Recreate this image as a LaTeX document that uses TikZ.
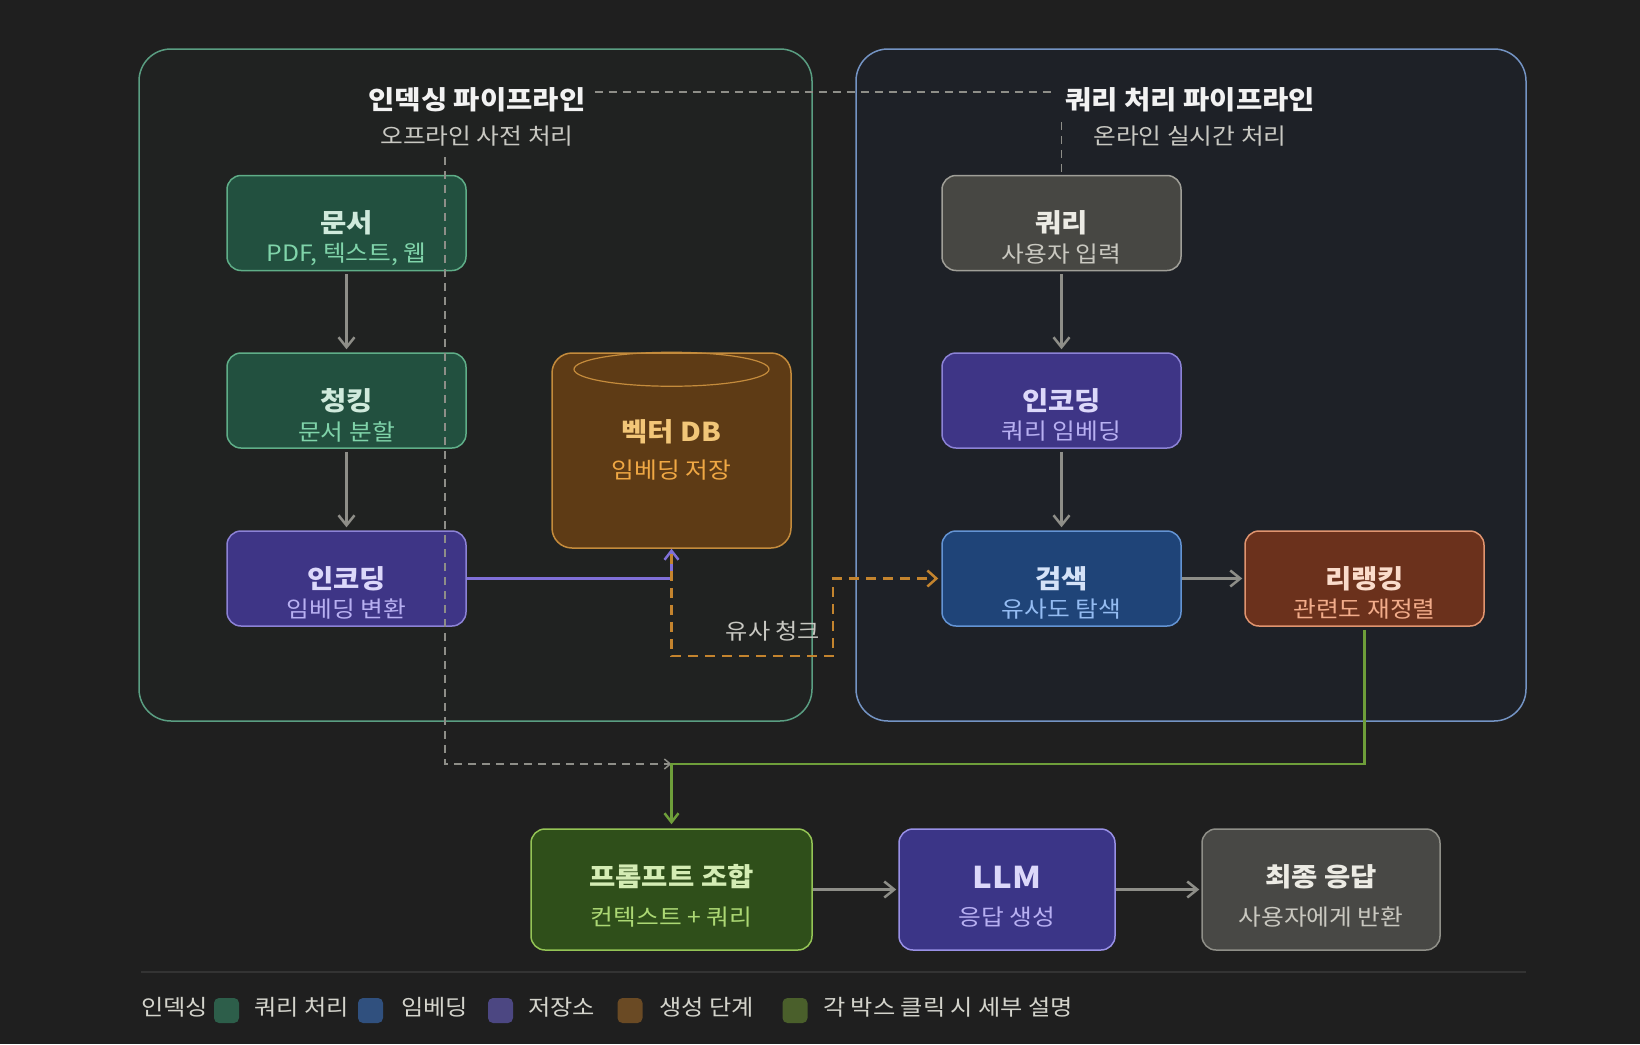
\documentclass[tikz,border=0pt]{standalone}
\usepackage{fontspec}
\setmainfont{Noto Sans CJK KR}[FakeStretch=1.1]
\usepackage{tikz}
\usetikzlibrary{calc,arrows.meta}
\definecolor{bgc}{HTML}{1F1F1F}
\definecolor{idxfill}{HTML}{202221}
\definecolor{idxline}{HTML}{5A9E82}
\definecolor{qfill}{HTML}{1E2127}
\definecolor{qline}{HTML}{7494C4}
\definecolor{gttlc}{HTML}{F2F2F2}
\definecolor{gsubc}{HTML}{C8C8C2}
\definecolor{docfill}{HTML}{22503F}
\definecolor{docline}{HTML}{5FAE88}
\definecolor{doctxt}{HTML}{D0EADC}
\definecolor{docsub}{HTML}{80D4AA}
\definecolor{encfill}{HTML}{3E3586}
\definecolor{encline}{HTML}{8C82D6}
\definecolor{enctxt}{HTML}{DCD8FA}
\definecolor{encsub}{HTML}{B8B0F2}
\definecolor{dbfill}{HTML}{5E3B15}
\definecolor{dbline}{HTML}{C48B3C}
\definecolor{dbtxt}{HTML}{F2C678}
\definecolor{dbsub}{HTML}{F0A844}
\definecolor{qryfill}{HTML}{474743}
\definecolor{qryline}{HTML}{A09F98}
\definecolor{qrytxt}{HTML}{ECEBE4}
\definecolor{qrysub}{HTML}{C9C8C0}
\definecolor{srchfill}{HTML}{1F4478}
\definecolor{srchline}{HTML}{6494D4}
\definecolor{srchtxt}{HTML}{D4E2F8}
\definecolor{srchsub}{HTML}{94BCF2}
\definecolor{rrfill}{HTML}{6B311C}
\definecolor{rrline}{HTML}{E0946F}
\definecolor{rrtxt}{HTML}{FADCCB}
\definecolor{rrsub}{HTML}{F2AC8A}
\definecolor{prfill}{HTML}{2F4F1A}
\definecolor{prline}{HTML}{94C455}
\definecolor{prtxt}{HTML}{D4ECB4}
\definecolor{prsub}{HTML}{ACD874}
\definecolor{llmfill}{HTML}{3B3587}
\definecolor{llmline}{HTML}{9890E6}
\definecolor{finfill}{HTML}{484845}
\definecolor{finline}{HTML}{8F8F88}
\definecolor{arrowc}{HTML}{8E8E88}
\definecolor{greenc}{HTML}{6E9E3A}
\definecolor{purplec}{HTML}{8070D8}
\definecolor{orangec}{HTML}{C4842E}
\definecolor{legc}{HTML}{D4D4CC}
\definecolor{sepc}{HTML}{333333}
\definecolor{sw1}{HTML}{2D5E4A}
\definecolor{sw2}{HTML}{30507E}
\definecolor{sw3}{HTML}{4C4782}
\definecolor{sw4}{HTML}{6A4A24}
\definecolor{sw5}{HTML}{4A5F2B}
\tikzset{%
  grp/.style={rounded corners=32pt,line width=1.5pt},
  blk/.style={draw,rectangle,rounded corners=14pt,line width=1.5pt,minimum width=239pt,minimum height=95pt,inner sep=0},
  gttl/.style={font=\fontsize{26}{30}\selectfont\bfseries,text=gttlc,inner sep=0},
  gsub/.style={font=\fontsize{22.5}{26}\selectfont,text=gsubc,inner sep=0},
  ttl/.style={font=\fontsize{26}{30}\selectfont\bfseries,inner sep=0},
  sub/.style={font=\fontsize{22.5}{26}\selectfont,inner sep=0},
  leg/.style={font=\fontsize{22}{26}\selectfont,text=legc,inner sep=0},
  swatch/.style={rectangle,rounded corners=5pt,minimum size=25pt,inner sep=0},
  garrow/.style={draw=arrowc,line width=2.5pt,-{Straight Barb[length=10pt,width=16pt]},shorten <=3pt,shorten >=3pt},
  harrow/.style={garrow,shorten <=0pt,shorten >=2pt},
  gdash/.style={draw=arrowc,line width=1.5pt,dash pattern=on 8pt off 6pt},
  parrow/.style={draw=purplec,line width=2.5pt,-{Straight Barb[length=9pt,width=14pt]}},
  oarrow/.style={draw=orangec,line width=2.5pt,dash pattern=on 10pt off 7pt,-{Straight Barb[length=9pt,width=16pt]}},
  grarrow/.style={draw=greenc,line width=2.5pt,-{Straight Barb[length=9pt,width=14pt]}}
}
\begin{document}
\begin{tikzpicture}[x=1pt,y=-1pt]
  \fill[bgc] (0,0) rectangle (1640,1044);
  \useasboundingbox (0,0) rectangle (1640,1044);
  % pipelines
  \draw[grp,draw=idxline,fill=idxfill] (139,49) rectangle (812,721);
  \draw[grp,draw=qline,fill=qfill] (856,49) rectangle (1526,721);
  \node[gttl] (idxT) at (477,100) {인덱싱 파이프라인};
  \node[gsub] (idxS) at (477,136) {오프라인 사전 처리};
  \node[gttl] (qT) at (1190,100) {쿼리 처리 파이프라인};
  \node[gsub] (qS) at (1190,136) {온라인 실시간 처리};
  \coordinate (idxTop) at (445,157);
  \coordinate (qTop) at (1061.5,122);
  \coordinate (merge) at (671.5,764);
  \coordinate (simB) at (833,656);

  % indexing
  \node[blk,fill=docfill,draw=docline] (doc) at (346.5,223) {};
  \node[ttl,text=doctxt] (doc-t) at (doc) {문서};
  \node[sub,text=docsub] (doc-s) at ($(doc)+(0,31)$) {PDF, 텍스트, 웹};
  \node[blk,fill=docfill,draw=docline] (chunk) at (346.5,400.5) {};
  \node[ttl,text=doctxt] (chunk-t) at (chunk) {청킹};
  \node[sub,text=docsub] (chunk-s) at ($(chunk)+(0,31)$) {문서 분할};
  \node[blk,fill=encfill,draw=encline] (enc1) at (346.5,578.5) {};
  \node[ttl,text=enctxt] (enc1-t) at (enc1) {인코딩};
  \node[sub,text=encsub] (enc1-s) at ($(enc1)+(0,31)$) {임베딩 변환};
  \node[blk,minimum height=195pt,rounded corners=20pt,fill=dbfill,draw=dbline] (db) at (671.5,450.5) {};
  \draw[dbline,line width=1.2pt] ($(db.north)+(0,17)$) ellipse [x radius=97.5pt,y radius=17pt];
  \node[ttl,text=dbtxt] (db-t) at ($(db)+(0,-19)$) {벡터 DB};
  \node[sub,text=dbsub] (db-s) at ($(db)+(0,20)$) {임베딩 저장};

  % query
  \node[blk,fill=qryfill,draw=qryline] (query) at (1061.5,223) {};
  \node[ttl,text=qrytxt] (query-t) at (query) {쿼리};
  \node[sub,text=qrysub] (query-s) at ($(query)+(0,31)$) {사용자 입력};
  \node[blk,fill=encfill,draw=encline] (enc2) at (1061.5,400.5) {};
  \node[ttl,text=enctxt] (enc2-t) at (enc2) {인코딩};
  \node[sub,text=encsub] (enc2-s) at ($(enc2)+(0,31)$) {쿼리 임베딩};
  \node[blk,fill=srchfill,draw=srchline] (search) at (1061.5,578.5) {};
  \node[ttl,text=srchtxt] (search-t) at (search) {검색};
  \node[sub,text=srchsub] (search-s) at ($(search)+(0,31)$) {유사도 탐색};
  \node[blk,fill=rrfill,draw=rrline] (rerank) at (1364.5,578.5) {};
  \node[ttl,text=rrtxt] (rerank-t) at (rerank) {리랭킹};
  \node[sub,text=rrsub] (rerank-s) at ($(rerank)+(0,31)$) {관련도 재정렬};

  % generation
  \node[blk,minimum width=281pt,minimum height=121pt,fill=prfill,draw=prline] (prompt) at (671.5,889.5) {};
  \node[ttl,text=prtxt] (prompt-t) at ($(prompt)+(0,-12.5)$) {프롬프트 조합};
  \node[sub,text=prsub] (prompt-s) at ($(prompt)+(0,27.5)$) {컨텍스트 + 쿼리};
  \node[blk,minimum width=216pt,minimum height=121pt,fill=llmfill,draw=llmline] (llm) at (1007,889.5) {};
  \node[ttl,text=enctxt,font=\fontsize{30}{34}\selectfont\bfseries] (llm-t) at ($(llm)+(0,-12.5)$) {LLM};
  \node[sub,text=encsub] (llm-s) at ($(llm)+(0,27.5)$) {응답 생성};
  \node[blk,minimum width=238pt,minimum height=121pt,fill=finfill,draw=finline] (final) at (1321,889.5) {};
  \node[ttl,text=qrytxt] (final-t) at ($(final)+(0,-12.5)$) {최종 응답};
  \node[sub,text=qrysub] (final-s) at ($(final)+(0,27.5)$) {사용자에게 반환};

  % connectors
  \draw[gdash] ([yshift=8pt]idxT.east) -- ([yshift=8pt]qT.west) [shorten <=9pt,shorten >=13pt];
  \draw[gdash] (qTop) -- (query.north);
  \draw[gdash,-{Straight Barb[length=6pt,width=10pt]}] (idxTop) |- (merge);
  \draw[garrow] (doc) -- (chunk);
  \draw[garrow] (chunk) -- (enc1);
  \draw[garrow] (query) -- (enc2);
  \draw[garrow] (enc2) -- (search);
  \draw[harrow] (search) -- (rerank);
  \draw[harrow] (prompt) -- (llm);
  \draw[harrow] (llm) -- (final);
  \draw[parrow] (enc1.east) -| (db.south);
  \draw[oarrow] ([yshift=-5pt]db.south) |- (simB) |- ([xshift=-3pt]search.west);
  \node[sub,text=gsubc,font=\fontsize{22}{26}\selectfont] (simL) at (773,631) {유사 청크};
  \draw[grarrow,shorten <=3pt] (rerank.south) |- (merge) -- ([yshift=4pt]prompt.north);

  % legend
  \draw[sepc,line width=2pt] (141,972) -- (1526,972);
  \node[leg,anchor=west] (lg1) at (141,1007) {인덱싱};
  \node[swatch,fill=sw1] (sw1) at (226.5,1010.5) {};
  \node[leg,anchor=west] (lg2) at (254,1007) {쿼리 처리};
  \node[swatch,fill=sw2] (sw2) at (370.5,1010.5) {};
  \node[leg,anchor=west] (lg3) at (401,1007) {임베딩};
  \node[swatch,fill=sw3] (sw3) at (500.5,1010.5) {};
  \node[leg,anchor=west] (lg4) at (528,1007) {저장소};
  \node[swatch,fill=sw4] (sw4) at (630,1010.5) {};
  \node[leg,anchor=west] (lg5) at (659,1007) {생성 단계};
  \node[swatch,fill=sw5] (sw5) at (795,1010.5) {};
  \node[leg,anchor=west] (lg6) at (823,1007) {각 박스 클릭 시 세부 설명};
\end{tikzpicture}
\end{document}
